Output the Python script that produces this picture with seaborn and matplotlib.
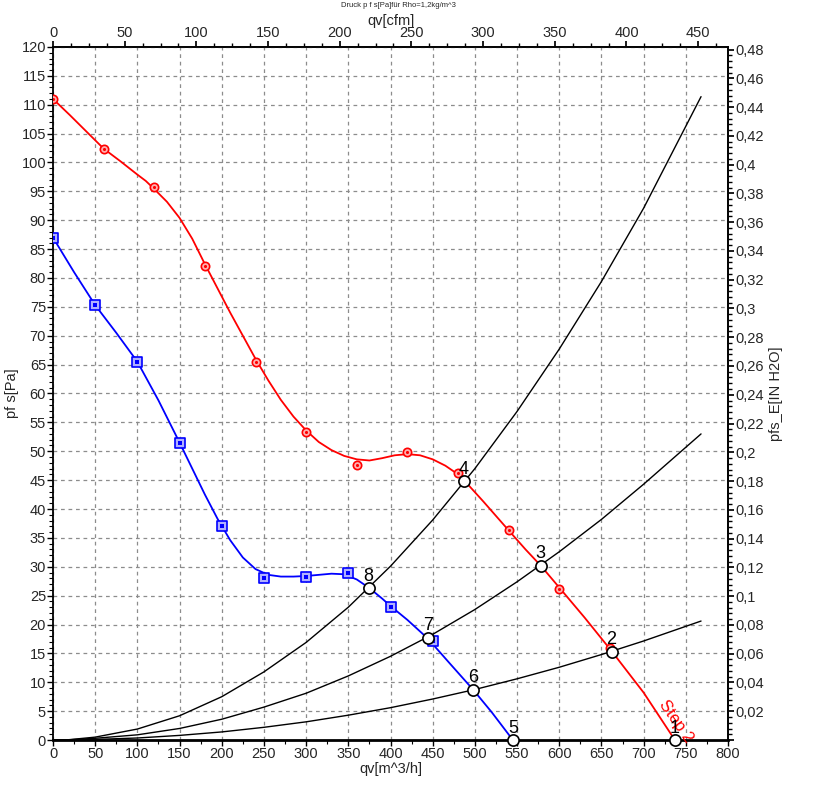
import numpy as np
import pandas as pd
import matplotlib
matplotlib.use("Agg")
import matplotlib.pyplot as plt
from matplotlib.ticker import MultipleLocator, FuncFormatter
import seaborn as sns

# measured points, step 2 (red) and step 1 (blue), qv in m^3/h, pf in Pa
red_pts_q = [0, 60, 120, 180, 240, 300, 360, 420, 480, 540, 600, 660]
red_pts_p = [111, 102.3, 95.8, 82, 65.5, 53.4, 47.7, 49.9, 46.2, 36.3, 26.1, 15.9]
blue_pts_q = [0, 50, 100, 150, 200, 250, 300, 350, 400, 450]
blue_pts_p = [87, 75.3, 65.5, 51.5, 37, 28, 28.3, 29, 23, 17.2]

# fitted curves
red_q = [0, 20, 40, 60, 80, 100, 110, 120, 135, 150, 165, 180, 195, 210, 225,
         240, 255, 270, 285, 300, 315, 330, 345, 360, 375, 390, 405, 420, 435,
         450, 465, 480, 487, 510, 540, 560, 578, 600, 630, 662, 700, 737]
red_p = [111, 108.2, 105.3, 102.4, 100.2, 97.9, 96.8, 95.4, 93.2, 90.4, 86.8,
         82.4, 78.2, 74.0, 70.0, 66.0, 62.3, 58.9, 56.0, 53.6, 51.6, 50.2, 49.2,
         48.6, 48.4, 48.8, 49.3, 49.5, 49.3, 48.6, 47.5, 46.0, 45.0, 41.3, 36.3,
         33.0, 30.2, 26.4, 21.2, 15.4, 8.2, 0]
blue_q = [0, 25, 50, 75, 100, 125, 150, 165, 180, 195, 210, 225, 240, 255, 270,
          285, 300, 315, 330, 345, 360, 375, 390, 400, 420, 444, 470, 498, 520, 545]
blue_p = [87, 81.0, 75.3, 70.5, 65.5, 58.8, 51.5, 47.0, 42.5, 38.3, 34.6, 31.6,
          29.6, 28.6, 28.3, 28.3, 28.4, 28.6, 28.8, 28.7, 27.8, 26.3, 24.5, 23.2,
          20.8, 17.6, 13.3, 8.7, 4.8, 0]

# system curves
sys_q = [0, 15, 50, 100, 150, 200, 250, 300, 350, 400, 450, 500, 550, 600, 650, 700, 768]
sys_a = [0, 0.0, 0.5, 1.9, 4.2, 7.5, 11.8, 16.9, 23.0, 30.1, 38.1, 47.0, 56.9,
         67.7, 79.4, 92.1, 111.4]
sys_b = [0, 0.0, 0.3, 0.9, 2.0, 3.6, 5.7, 8.1, 11.1, 14.5, 18.3, 22.6, 27.4,
         32.6, 38.2, 44.3, 53.0]
sys_c = [0, 0.0, 0.1, 0.35, 0.8, 1.4, 2.2, 3.15, 4.3, 5.6, 7.1, 8.75, 10.6,
         12.6, 14.8, 17.15, 20.6]

# operating points
op_labels = ["1", "2", "3", "4", "5", "6", "7", "8"]
op_q = [737, 662, 578, 487, 545, 498, 444, 374]
op_p = [0, 15.3, 30.2, 44.8, 0, 8.7, 17.7, 26.3]

sns.set_theme(style="white")
plt.rcParams["font.family"] = ["Liberation Sans", "DejaVu Sans"]

fig = plt.figure(figsize=(8.13, 8.10), dpi=100)
ax = fig.add_axes([0.0652, 0.0864, 0.8303, 0.8556])

ax.grid(True, color="#8c8c8c", linestyle=(0, (3, 3)), linewidth=0.9)
ax.set_axisbelow(True)

sys_df = pd.DataFrame({"q": sys_q, "a": sys_a, "b": sys_b, "c": sys_c})
for col in ["a", "b", "c"]:
    sns.lineplot(data=sys_df, x="q", y=col, ax=ax, color="black", linewidth=1.0,
                 sort=False, estimator=None)

sns.lineplot(x=red_q, y=red_p, ax=ax, color="#ff0000", linewidth=1.3, sort=False,
             estimator=None)
sns.lineplot(x=blue_q, y=blue_p, ax=ax, color="#0000ff", linewidth=1.3, sort=False,
             estimator=None)

sns.scatterplot(x=red_pts_q, y=red_pts_p, ax=ax, marker="o", s=36,
                facecolor="#ffb0b0", edgecolor="#ff0000", linewidth=1.2, zorder=4)
sns.scatterplot(x=red_pts_q, y=red_pts_p, ax=ax, marker="o", s=5,
                color="#ff0000", linewidth=0, zorder=5)
sns.scatterplot(x=blue_pts_q, y=blue_pts_p, ax=ax, marker="s", s=42,
                facecolor="#b0b0ff", edgecolor="#0000ff", linewidth=1.2, zorder=4)
sns.scatterplot(x=blue_pts_q, y=blue_pts_p, ax=ax, marker="s", s=5,
                color="#0000ff", linewidth=0, zorder=5)

sns.scatterplot(x=op_q, y=op_p, ax=ax, marker="o", s=65, facecolor="white",
                edgecolor="black", linewidth=1.2, zorder=6, clip_on=False)
for lab, q, p in zip(op_labels, op_q, op_p):
    ax.text(q, p + 0.6, lab, ha="center", va="bottom", fontsize=13, color="black",
            zorder=7)

ax.text(738, 3.2, "Step 2", color="#ff0000", fontsize=12, rotation=-55,
        rotation_mode="anchor", ha="center", va="center")

ax.set_xlim(0, 800)
ax.set_ylim(0, 120)
ax.xaxis.set_major_locator(MultipleLocator(50))
ax.xaxis.set_minor_locator(MultipleLocator(25))
ax.yaxis.set_major_locator(MultipleLocator(5))
ax.yaxis.set_minor_locator(MultipleLocator(1))
ax.tick_params(which="both", direction="out", color="black", labelsize=10.5,
               left=True, bottom=True, pad=1)
ax.tick_params(which="major", length=4, width=1)
ax.tick_params(which="minor", length=3, width=0.8)
ax.set_xlabel("qv[m^3/h]", fontsize=10.5, labelpad=1)
ax.set_ylabel("pf s[Pa]", fontsize=10.5, labelpad=2)

for sp in ax.spines.values():
    sp.set_color("black")
    sp.set_linewidth(1.3)
ax.spines["bottom"].set_linewidth(2)

top = ax.secondary_xaxis("top", functions=(lambda v: v / 1.699, lambda v: v * 1.699))
top.xaxis.set_major_locator(MultipleLocator(50))
top.xaxis.set_minor_locator(MultipleLocator(12.5))
top.tick_params(which="both", direction="out", labelsize=10.5, color="black", pad=1)
top.tick_params(which="major", length=4)
top.tick_params(which="minor", length=3)
top.set_xlabel("qv[cfm]", fontsize=10.5, labelpad=1)

def comma_fmt(v, pos):
    if abs(v) < 1e-9:
        return ""
    return f"{v:.2f}".rstrip("0").rstrip(".").replace(".", ",")

right = ax.secondary_yaxis("right", functions=(lambda v: v / 249.09, lambda v: v * 249.09))
right.yaxis.set_major_locator(MultipleLocator(0.02))
right.yaxis.set_minor_locator(MultipleLocator(0.004))
right.yaxis.set_major_formatter(FuncFormatter(comma_fmt))
right.tick_params(which="both", direction="out", labelsize=10.5, color="black", pad=1)
right.tick_params(which="major", length=4)
right.tick_params(which="minor", length=3)
right.set_ylabel("pfs_E[IN H2O]", fontsize=10.5, labelpad=4)

fig.text(0.49, 0.998, "Druck p f s[Pa]für Rho=1,2kg/m^3", fontsize=5.5,
         ha="center", va="top")

fig.savefig("out.png", dpi=100)
